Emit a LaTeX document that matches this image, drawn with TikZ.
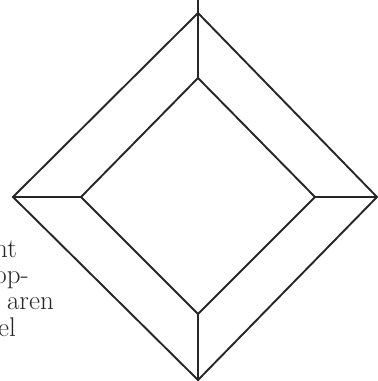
\documentclass[tikz,border=0pt]{standalone}
\tikzset{
  edge/.style={line width=1.9pt, draw=black!85, line join=miter},
  txt/.style={inner sep=0pt, anchor=base east, text=black!85, font=\fontsize{27}{27}\selectfont}
}
\begin{document}
\begin{tikzpicture}[x=1pt,y=1pt]
\useasboundingbox (0,0) rectangle (378,381);
\clip (0,0) rectangle (378,381);
% outer diamond
\coordinate (T) at (198,368);
\coordinate (B) at (198,1);
\coordinate (L) at (13,184);
\coordinate (R) at (377,184);
% inner diamond
\coordinate (t) at (198,303);
\coordinate (b) at (198,67);
\coordinate (l) at (81,184);
\coordinate (r) at (315,184);
\coordinate (top) at (198,381);
\coordinate (bot) at (198,0);
\draw[edge] (T) -- (R) -- (B) -- (L) -- cycle;
\draw[edge] (t) -- (r) -- (b) -- (l) -- cycle;
\draw[edge] (top) -- (t);
\draw[edge] (b) -- (bot);
\draw[edge] (L) -- (l);
\draw[edge] (r) -- (R);
\node[txt] (w1) at (17,123) {nt};
\node[txt] (w2) at (29,97) {op-};
\node[txt] (w3) at (54,71) {aren};
\node[txt] (w4) at (16,45) {el};
\end{tikzpicture}
\end{document}
